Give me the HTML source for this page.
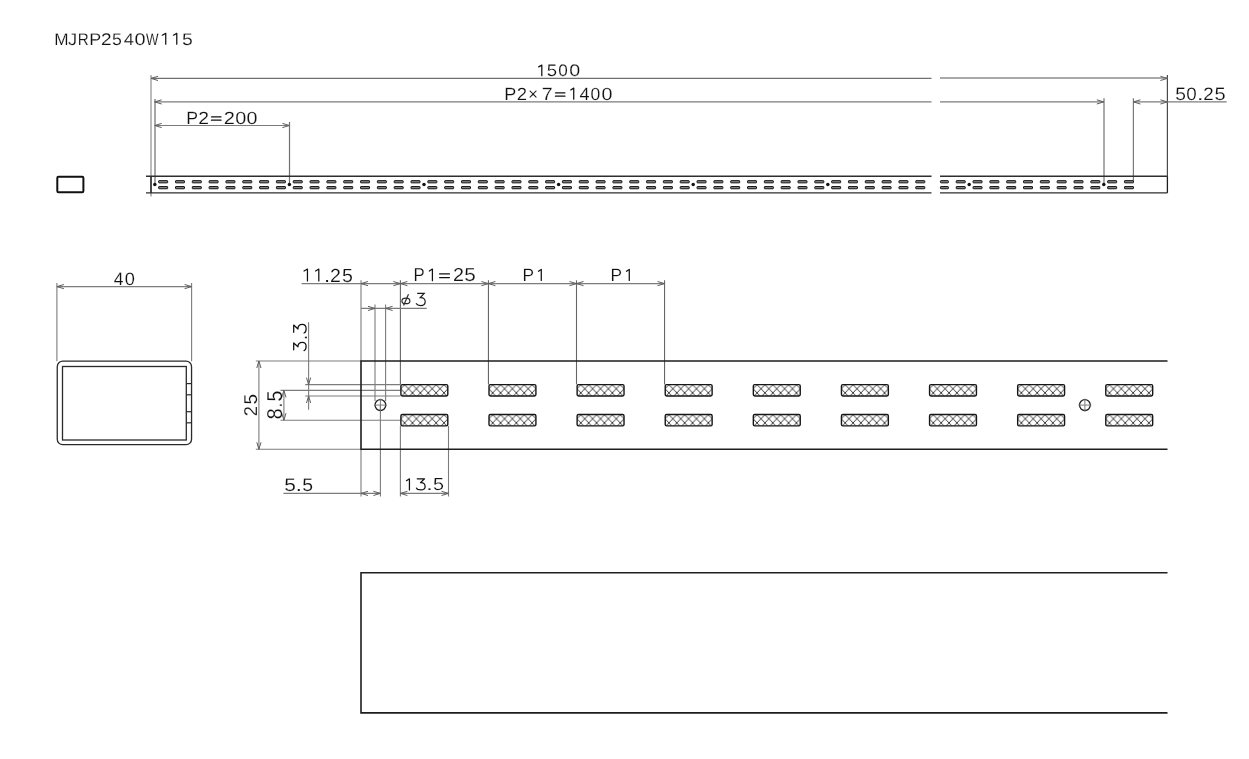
<!DOCTYPE html>
<html><head><meta charset="utf-8"><style>
html,body{margin:0;padding:0;background:#fff;}
svg{display:block;}
text{font-family:"Liberation Sans",sans-serif;text-rendering:geometricPrecision;}
</style></head><body>
<svg width="1249" height="759" viewBox="0 0 1249 759">
<rect width="1249" height="759" fill="#fff"/>
<line x1="151.00" y1="75.00" x2="151.00" y2="176.20" stroke="#a4a4a4" stroke-width="1.5"/>
<line x1="151.00" y1="176.20" x2="151.00" y2="192.90" stroke="#1e1e1e" stroke-width="1.6"/>
<line x1="151.00" y1="192.90" x2="151.00" y2="196.50" stroke="#a4a4a4" stroke-width="1.5"/>
<line x1="1167.40" y1="75.00" x2="1167.40" y2="176.20" stroke="#4a4a4a" stroke-width="1.2"/>
<line x1="1167.40" y1="176.20" x2="1167.40" y2="192.90" stroke="#1e1e1e" stroke-width="1.3"/>
<line x1="155.00" y1="99.00" x2="155.00" y2="184.50" stroke="#8a8a8a" stroke-width="1.5"/>
<line x1="289.50" y1="122.00" x2="289.50" y2="184.50" stroke="#707070" stroke-width="1.2"/>
<line x1="1104.00" y1="98.30" x2="1104.00" y2="184.50" stroke="#7e7e7e" stroke-width="1.3"/>
<line x1="1133.40" y1="98.30" x2="1133.40" y2="181.00" stroke="#7a7a7a" stroke-width="1.2"/>
<line x1="146.00" y1="176.20" x2="931.50" y2="176.20" stroke="#2e2e2e" stroke-width="1.4"/>
<line x1="146.00" y1="192.90" x2="931.50" y2="192.90" stroke="#2e2e2e" stroke-width="1.4"/>
<line x1="940.00" y1="176.20" x2="1167.40" y2="176.20" stroke="#2e2e2e" stroke-width="1.4"/>
<line x1="940.00" y1="192.90" x2="1167.40" y2="192.90" stroke="#2e2e2e" stroke-width="1.4"/>
<line x1="151.00" y1="78.40" x2="931.50" y2="78.40" stroke="#707070" stroke-width="1.2"/>
<line x1="940.00" y1="78.00" x2="1167.40" y2="78.00" stroke="#8c8c8c" stroke-width="1.4"/>
<path d="M158.00,76.30 L151.00,78.40 L158.00,80.50" stroke="#5e5e5e" stroke-width="1.0" fill="none" />
<path d="M1160.40,76.30 L1167.40,78.40 L1160.40,80.50" stroke="#5e5e5e" stroke-width="1.0" fill="none" />
<line x1="154.70" y1="101.90" x2="931.50" y2="101.90" stroke="#7c7c7c" stroke-width="1.1"/>
<line x1="940.00" y1="101.90" x2="1103.80" y2="101.90" stroke="#7c7c7c" stroke-width="1.1"/>
<path d="M161.70,99.80 L154.70,101.90 L161.70,104.00" stroke="#5e5e5e" stroke-width="1.0" fill="none" />
<path d="M1096.80,99.80 L1103.80,101.90 L1096.80,104.00" stroke="#5e5e5e" stroke-width="1.0" fill="none" />
<line x1="1133.40" y1="101.90" x2="1226.70" y2="101.90" stroke="#7c7c7c" stroke-width="1.1"/>
<path d="M1140.40,99.80 L1133.40,101.90 L1140.40,104.00" stroke="#5e5e5e" stroke-width="1.0" fill="none" />
<path d="M1160.40,99.80 L1167.40,101.90 L1160.40,104.00" stroke="#5e5e5e" stroke-width="1.0" fill="none" />
<line x1="154.70" y1="125.50" x2="289.40" y2="125.50" stroke="#7c7c7c" stroke-width="1.1"/>
<path d="M161.70,123.40 L154.70,125.50 L161.70,127.60" stroke="#5e5e5e" stroke-width="1.0" fill="none" />
<path d="M282.40,123.40 L289.40,125.50 L282.40,127.60" stroke="#5e5e5e" stroke-width="1.0" fill="none" />
<g fill="#8a8a8a" stroke="#121212" stroke-width="1.0"><rect x="158.65" y="180.65" width="9.0" height="2.2" rx="0.4"/><rect x="158.65" y="186.55" width="9.0" height="2.2" rx="0.4"/><rect x="175.47" y="180.65" width="9.0" height="2.2" rx="0.4"/><rect x="175.47" y="186.55" width="9.0" height="2.2" rx="0.4"/><rect x="192.30" y="180.65" width="9.0" height="2.2" rx="0.4"/><rect x="192.30" y="186.55" width="9.0" height="2.2" rx="0.4"/><rect x="209.12" y="180.65" width="9.0" height="2.2" rx="0.4"/><rect x="209.12" y="186.55" width="9.0" height="2.2" rx="0.4"/><rect x="225.95" y="180.65" width="9.0" height="2.2" rx="0.4"/><rect x="225.95" y="186.55" width="9.0" height="2.2" rx="0.4"/><rect x="242.78" y="180.65" width="9.0" height="2.2" rx="0.4"/><rect x="242.78" y="186.55" width="9.0" height="2.2" rx="0.4"/><rect x="259.60" y="180.65" width="9.0" height="2.2" rx="0.4"/><rect x="259.60" y="186.55" width="9.0" height="2.2" rx="0.4"/><rect x="276.43" y="180.65" width="9.0" height="2.2" rx="0.4"/><rect x="276.43" y="186.55" width="9.0" height="2.2" rx="0.4"/><rect x="293.25" y="180.65" width="9.0" height="2.2" rx="0.4"/><rect x="293.25" y="186.55" width="9.0" height="2.2" rx="0.4"/><rect x="310.07" y="180.65" width="9.0" height="2.2" rx="0.4"/><rect x="310.07" y="186.55" width="9.0" height="2.2" rx="0.4"/><rect x="326.90" y="180.65" width="9.0" height="2.2" rx="0.4"/><rect x="326.90" y="186.55" width="9.0" height="2.2" rx="0.4"/><rect x="343.73" y="180.65" width="9.0" height="2.2" rx="0.4"/><rect x="343.73" y="186.55" width="9.0" height="2.2" rx="0.4"/><rect x="360.55" y="180.65" width="9.0" height="2.2" rx="0.4"/><rect x="360.55" y="186.55" width="9.0" height="2.2" rx="0.4"/><rect x="377.38" y="180.65" width="9.0" height="2.2" rx="0.4"/><rect x="377.38" y="186.55" width="9.0" height="2.2" rx="0.4"/><rect x="394.20" y="180.65" width="9.0" height="2.2" rx="0.4"/><rect x="394.20" y="186.55" width="9.0" height="2.2" rx="0.4"/><rect x="411.02" y="180.65" width="9.0" height="2.2" rx="0.4"/><rect x="411.02" y="186.55" width="9.0" height="2.2" rx="0.4"/><rect x="427.85" y="180.65" width="9.0" height="2.2" rx="0.4"/><rect x="427.85" y="186.55" width="9.0" height="2.2" rx="0.4"/><rect x="444.67" y="180.65" width="9.0" height="2.2" rx="0.4"/><rect x="444.67" y="186.55" width="9.0" height="2.2" rx="0.4"/><rect x="461.50" y="180.65" width="9.0" height="2.2" rx="0.4"/><rect x="461.50" y="186.55" width="9.0" height="2.2" rx="0.4"/><rect x="478.33" y="180.65" width="9.0" height="2.2" rx="0.4"/><rect x="478.33" y="186.55" width="9.0" height="2.2" rx="0.4"/><rect x="495.15" y="180.65" width="9.0" height="2.2" rx="0.4"/><rect x="495.15" y="186.55" width="9.0" height="2.2" rx="0.4"/><rect x="511.98" y="180.65" width="9.0" height="2.2" rx="0.4"/><rect x="511.98" y="186.55" width="9.0" height="2.2" rx="0.4"/><rect x="528.80" y="180.65" width="9.0" height="2.2" rx="0.4"/><rect x="528.80" y="186.55" width="9.0" height="2.2" rx="0.4"/><rect x="545.62" y="180.65" width="9.0" height="2.2" rx="0.4"/><rect x="545.62" y="186.55" width="9.0" height="2.2" rx="0.4"/><rect x="562.45" y="180.65" width="9.0" height="2.2" rx="0.4"/><rect x="562.45" y="186.55" width="9.0" height="2.2" rx="0.4"/><rect x="579.27" y="180.65" width="9.0" height="2.2" rx="0.4"/><rect x="579.27" y="186.55" width="9.0" height="2.2" rx="0.4"/><rect x="596.10" y="180.65" width="9.0" height="2.2" rx="0.4"/><rect x="596.10" y="186.55" width="9.0" height="2.2" rx="0.4"/><rect x="612.92" y="180.65" width="9.0" height="2.2" rx="0.4"/><rect x="612.92" y="186.55" width="9.0" height="2.2" rx="0.4"/><rect x="629.75" y="180.65" width="9.0" height="2.2" rx="0.4"/><rect x="629.75" y="186.55" width="9.0" height="2.2" rx="0.4"/><rect x="646.57" y="180.65" width="9.0" height="2.2" rx="0.4"/><rect x="646.57" y="186.55" width="9.0" height="2.2" rx="0.4"/><rect x="663.40" y="180.65" width="9.0" height="2.2" rx="0.4"/><rect x="663.40" y="186.55" width="9.0" height="2.2" rx="0.4"/><rect x="680.22" y="180.65" width="9.0" height="2.2" rx="0.4"/><rect x="680.22" y="186.55" width="9.0" height="2.2" rx="0.4"/><rect x="697.05" y="180.65" width="9.0" height="2.2" rx="0.4"/><rect x="697.05" y="186.55" width="9.0" height="2.2" rx="0.4"/><rect x="713.88" y="180.65" width="9.0" height="2.2" rx="0.4"/><rect x="713.88" y="186.55" width="9.0" height="2.2" rx="0.4"/><rect x="730.70" y="180.65" width="9.0" height="2.2" rx="0.4"/><rect x="730.70" y="186.55" width="9.0" height="2.2" rx="0.4"/><rect x="747.52" y="180.65" width="9.0" height="2.2" rx="0.4"/><rect x="747.52" y="186.55" width="9.0" height="2.2" rx="0.4"/><rect x="764.35" y="180.65" width="9.0" height="2.2" rx="0.4"/><rect x="764.35" y="186.55" width="9.0" height="2.2" rx="0.4"/><rect x="781.17" y="180.65" width="9.0" height="2.2" rx="0.4"/><rect x="781.17" y="186.55" width="9.0" height="2.2" rx="0.4"/><rect x="798.00" y="180.65" width="9.0" height="2.2" rx="0.4"/><rect x="798.00" y="186.55" width="9.0" height="2.2" rx="0.4"/><rect x="814.82" y="180.65" width="9.0" height="2.2" rx="0.4"/><rect x="814.82" y="186.55" width="9.0" height="2.2" rx="0.4"/><rect x="831.65" y="180.65" width="9.0" height="2.2" rx="0.4"/><rect x="831.65" y="186.55" width="9.0" height="2.2" rx="0.4"/><rect x="848.47" y="180.65" width="9.0" height="2.2" rx="0.4"/><rect x="848.47" y="186.55" width="9.0" height="2.2" rx="0.4"/><rect x="865.30" y="180.65" width="9.0" height="2.2" rx="0.4"/><rect x="865.30" y="186.55" width="9.0" height="2.2" rx="0.4"/><rect x="882.12" y="180.65" width="9.0" height="2.2" rx="0.4"/><rect x="882.12" y="186.55" width="9.0" height="2.2" rx="0.4"/><rect x="898.95" y="180.65" width="9.0" height="2.2" rx="0.4"/><rect x="898.95" y="186.55" width="9.0" height="2.2" rx="0.4"/><rect x="915.77" y="180.65" width="9.0" height="2.2" rx="0.4"/><rect x="915.77" y="186.55" width="9.0" height="2.2" rx="0.4"/><rect x="940.45" y="180.65" width="7.95" height="2.2" rx="0.6"/><rect x="940.45" y="186.55" width="7.95" height="2.2" rx="0.6"/><rect x="956.22" y="180.65" width="9.0" height="2.2" rx="0.4"/><rect x="956.22" y="186.55" width="9.0" height="2.2" rx="0.4"/><rect x="973.05" y="180.65" width="9.0" height="2.2" rx="0.4"/><rect x="973.05" y="186.55" width="9.0" height="2.2" rx="0.4"/><rect x="989.87" y="180.65" width="9.0" height="2.2" rx="0.4"/><rect x="989.87" y="186.55" width="9.0" height="2.2" rx="0.4"/><rect x="1006.70" y="180.65" width="9.0" height="2.2" rx="0.4"/><rect x="1006.70" y="186.55" width="9.0" height="2.2" rx="0.4"/><rect x="1023.52" y="180.65" width="9.0" height="2.2" rx="0.4"/><rect x="1023.52" y="186.55" width="9.0" height="2.2" rx="0.4"/><rect x="1040.35" y="180.65" width="9.0" height="2.2" rx="0.4"/><rect x="1040.35" y="186.55" width="9.0" height="2.2" rx="0.4"/><rect x="1057.17" y="180.65" width="9.0" height="2.2" rx="0.4"/><rect x="1057.17" y="186.55" width="9.0" height="2.2" rx="0.4"/><rect x="1074.00" y="180.65" width="9.0" height="2.2" rx="0.4"/><rect x="1074.00" y="186.55" width="9.0" height="2.2" rx="0.4"/><rect x="1090.83" y="180.65" width="9.0" height="2.2" rx="0.4"/><rect x="1090.83" y="186.55" width="9.0" height="2.2" rx="0.4"/><rect x="1107.65" y="180.65" width="9.0" height="2.2" rx="0.4"/><rect x="1107.65" y="186.55" width="9.0" height="2.2" rx="0.4"/><rect x="1124.47" y="180.65" width="9.0" height="2.2" rx="0.4"/><rect x="1124.47" y="186.55" width="9.0" height="2.2" rx="0.4"/></g>
<circle cx="154.80" cy="184.5" r="1.75" fill="#111"/>
<circle cx="289.40" cy="184.5" r="1.75" fill="#111"/>
<circle cx="424.00" cy="184.5" r="1.75" fill="#111"/>
<circle cx="558.60" cy="184.5" r="1.75" fill="#111"/>
<circle cx="693.20" cy="184.5" r="1.75" fill="#111"/>
<circle cx="827.80" cy="184.5" r="1.75" fill="#111"/>
<circle cx="969.20" cy="184.5" r="1.75" fill="#111"/>
<circle cx="1103.80" cy="184.5" r="1.75" fill="#111"/>
<rect x="57.3" y="176.7" width="26.1" height="15.6" rx="1.2" fill="none" stroke="#111" stroke-width="2.0"/>
<line x1="56.90" y1="283.00" x2="56.90" y2="361.20" stroke="#7c7c7c" stroke-width="1.1"/>
<line x1="191.60" y1="283.00" x2="191.60" y2="361.20" stroke="#7c7c7c" stroke-width="1.1"/>
<line x1="56.90" y1="286.60" x2="191.60" y2="286.60" stroke="#7c7c7c" stroke-width="1.1"/>
<path d="M63.90,284.50 L56.90,286.60 L63.90,288.70" stroke="#5e5e5e" stroke-width="1.0" fill="none" />
<path d="M184.60,284.50 L191.60,286.60 L184.60,288.70" stroke="#5e5e5e" stroke-width="1.0" fill="none" />
<rect x="57.25" y="361.2" width="134.3" height="83.5" rx="5.5" fill="none" stroke="#2a2a2a" stroke-width="1.3"/>
<rect x="62.5" y="366.5" width="123.8" height="73.5" fill="none" stroke="#2a2a2a" stroke-width="1.3"/>
<line x1="186.30" y1="383.60" x2="191.50" y2="383.60" stroke="#2a2a2a" stroke-width="1.2"/>
<line x1="186.30" y1="394.80" x2="191.50" y2="394.80" stroke="#2a2a2a" stroke-width="1.2"/>
<line x1="186.30" y1="411.70" x2="191.50" y2="411.70" stroke="#2a2a2a" stroke-width="1.2"/>
<line x1="186.30" y1="422.80" x2="191.50" y2="422.80" stroke="#2a2a2a" stroke-width="1.2"/>
<line x1="255.80" y1="361.00" x2="361.00" y2="361.00" stroke="#7c7c7c" stroke-width="1.1"/>
<line x1="255.80" y1="449.30" x2="361.00" y2="449.30" stroke="#7c7c7c" stroke-width="1.1"/>
<line x1="305.20" y1="384.60" x2="400.40" y2="384.60" stroke="#7c7c7c" stroke-width="1.1"/>
<line x1="280.50" y1="390.40" x2="400.40" y2="390.40" stroke="#7c7c7c" stroke-width="1.1"/>
<line x1="305.20" y1="396.00" x2="400.40" y2="396.00" stroke="#7c7c7c" stroke-width="1.1"/>
<line x1="280.50" y1="420.20" x2="400.40" y2="420.20" stroke="#7c7c7c" stroke-width="1.1"/>
<line x1="361.00" y1="280.30" x2="361.00" y2="361.00" stroke="#7c7c7c" stroke-width="1.1"/>
<line x1="361.00" y1="449.30" x2="361.00" y2="496.50" stroke="#7c7c7c" stroke-width="1.1"/>
<line x1="375.00" y1="304.50" x2="375.00" y2="401.00" stroke="#7c7c7c" stroke-width="1.1"/>
<line x1="385.60" y1="304.50" x2="385.60" y2="401.00" stroke="#7c7c7c" stroke-width="1.1"/>
<line x1="400.40" y1="280.30" x2="400.40" y2="384.60" stroke="#666" stroke-width="1.1"/>
<line x1="400.40" y1="426.00" x2="400.40" y2="496.50" stroke="#7c7c7c" stroke-width="1.1"/>
<line x1="448.50" y1="426.00" x2="448.50" y2="496.50" stroke="#7c7c7c" stroke-width="1.1"/>
<line x1="380.40" y1="405.10" x2="380.40" y2="496.50" stroke="#7c7c7c" stroke-width="1.1"/>
<line x1="488.45" y1="280.30" x2="488.45" y2="384.40" stroke="#666" stroke-width="1.1"/>
<line x1="576.50" y1="280.30" x2="576.50" y2="384.40" stroke="#666" stroke-width="1.1"/>
<line x1="664.55" y1="280.30" x2="664.55" y2="384.40" stroke="#666" stroke-width="1.1"/>
<line x1="301.60" y1="283.60" x2="664.55" y2="283.60" stroke="#7c7c7c" stroke-width="1.1"/>
<path d="M368.00,281.50 L361.00,283.60 L368.00,285.70" stroke="#5e5e5e" stroke-width="1.0" fill="none" />
<path d="M393.40,281.50 L400.40,283.60 L393.40,285.70" stroke="#5e5e5e" stroke-width="1.0" fill="none" />
<path d="M407.40,281.50 L400.40,283.60 L407.40,285.70" stroke="#5e5e5e" stroke-width="1.0" fill="none" />
<path d="M481.45,281.50 L488.45,283.60 L481.45,285.70" stroke="#5e5e5e" stroke-width="1.0" fill="none" />
<path d="M495.45,281.50 L488.45,283.60 L495.45,285.70" stroke="#5e5e5e" stroke-width="1.0" fill="none" />
<path d="M569.50,281.50 L576.50,283.60 L569.50,285.70" stroke="#5e5e5e" stroke-width="1.0" fill="none" />
<path d="M583.50,281.50 L576.50,283.60 L583.50,285.70" stroke="#5e5e5e" stroke-width="1.0" fill="none" />
<path d="M657.55,281.50 L664.55,283.60 L657.55,285.70" stroke="#5e5e5e" stroke-width="1.0" fill="none" />
<line x1="361.00" y1="308.40" x2="426.70" y2="308.40" stroke="#7c7c7c" stroke-width="1.1"/>
<path d="M368.00,306.30 L375.00,308.40 L368.00,310.50" stroke="#5e5e5e" stroke-width="1.0" fill="none" />
<path d="M392.60,306.30 L385.60,308.40 L392.60,310.50" stroke="#5e5e5e" stroke-width="1.0" fill="none" />
<line x1="258.90" y1="361.00" x2="258.90" y2="449.30" stroke="#7c7c7c" stroke-width="1.1"/>
<path d="M256.80,368.00 L258.90,361.00 L261.00,368.00" stroke="#5e5e5e" stroke-width="1.0" fill="none" />
<path d="M256.80,442.30 L258.90,449.30 L261.00,442.30" stroke="#5e5e5e" stroke-width="1.0" fill="none" />
<line x1="283.90" y1="390.40" x2="283.90" y2="420.20" stroke="#7c7c7c" stroke-width="1.1"/>
<path d="M281.80,397.40 L283.90,390.40 L286.00,397.40" stroke="#5e5e5e" stroke-width="1.0" fill="none" />
<path d="M281.80,413.20 L283.90,420.20 L286.00,413.20" stroke="#5e5e5e" stroke-width="1.0" fill="none" />
<line x1="308.60" y1="322.20" x2="308.60" y2="409.80" stroke="#7c7c7c" stroke-width="1.1"/>
<path d="M306.50,377.60 L308.60,384.60 L310.70,377.60" stroke="#5e5e5e" stroke-width="1.0" fill="none" />
<path d="M306.50,403.00 L308.60,396.00 L310.70,403.00" stroke="#5e5e5e" stroke-width="1.0" fill="none" />
<line x1="283.40" y1="493.40" x2="380.40" y2="493.40" stroke="#7c7c7c" stroke-width="1.1"/>
<path d="M368.00,491.30 L361.00,493.40 L368.00,495.50" stroke="#5e5e5e" stroke-width="1.0" fill="none" />
<path d="M373.40,491.30 L380.40,493.40 L373.40,495.50" stroke="#5e5e5e" stroke-width="1.0" fill="none" />
<line x1="400.40" y1="493.40" x2="448.50" y2="493.40" stroke="#7c7c7c" stroke-width="1.1"/>
<path d="M407.40,491.30 L400.40,493.40 L407.40,495.50" stroke="#5e5e5e" stroke-width="1.0" fill="none" />
<path d="M441.50,491.30 L448.50,493.40 L441.50,495.50" stroke="#5e5e5e" stroke-width="1.0" fill="none" />
<path d="M1167.5,361.0 L361.0,361.0 L361.0,449.3 L1167.5,449.3" stroke="#1e1e1e" stroke-width="1.6" fill="none" />
<circle cx="380.4" cy="405.1" r="5.4" fill="none" stroke="#1e1e1e" stroke-width="1.3"/>
<line x1="373.90" y1="405.10" x2="386.90" y2="405.10" stroke="#7c7c7c" stroke-width="1.0"/>
<line x1="380.40" y1="398.60" x2="380.40" y2="411.60" stroke="#7c7c7c" stroke-width="1.0"/>
<circle cx="1084.9" cy="405.1" r="5.4" fill="none" stroke="#1e1e1e" stroke-width="1.3"/>
<line x1="1078.40" y1="405.10" x2="1091.40" y2="405.10" stroke="#7c7c7c" stroke-width="1.0"/>
<line x1="1084.90" y1="398.60" x2="1084.90" y2="411.60" stroke="#7c7c7c" stroke-width="1.0"/>
<defs><pattern id="xh0_0" patternUnits="userSpaceOnUse" width="7.88" height="8.2" x="404.60" y="384.70"><path d="M-0.788,-0.820 L8.668,9.020 M8.668,-0.820 L-0.788,9.020" stroke="#2a2a2a" stroke-width="0.9"/></pattern><pattern id="xh0_1" patternUnits="userSpaceOnUse" width="7.88" height="8.2" x="404.60" y="414.70"><path d="M-0.788,-0.820 L8.668,9.020 M8.668,-0.820 L-0.788,9.020" stroke="#2a2a2a" stroke-width="0.9"/></pattern><pattern id="xh1_0" patternUnits="userSpaceOnUse" width="7.88" height="8.2" x="492.71" y="384.70"><path d="M-0.788,-0.820 L8.668,9.020 M8.668,-0.820 L-0.788,9.020" stroke="#2a2a2a" stroke-width="0.9"/></pattern><pattern id="xh1_1" patternUnits="userSpaceOnUse" width="7.88" height="8.2" x="492.71" y="414.70"><path d="M-0.788,-0.820 L8.668,9.020 M8.668,-0.820 L-0.788,9.020" stroke="#2a2a2a" stroke-width="0.9"/></pattern><pattern id="xh2_0" patternUnits="userSpaceOnUse" width="7.88" height="8.2" x="580.82" y="384.70"><path d="M-0.788,-0.820 L8.668,9.020 M8.668,-0.820 L-0.788,9.020" stroke="#2a2a2a" stroke-width="0.9"/></pattern><pattern id="xh2_1" patternUnits="userSpaceOnUse" width="7.88" height="8.2" x="580.82" y="414.70"><path d="M-0.788,-0.820 L8.668,9.020 M8.668,-0.820 L-0.788,9.020" stroke="#2a2a2a" stroke-width="0.9"/></pattern><pattern id="xh3_0" patternUnits="userSpaceOnUse" width="7.88" height="8.2" x="668.93" y="384.70"><path d="M-0.788,-0.820 L8.668,9.020 M8.668,-0.820 L-0.788,9.020" stroke="#2a2a2a" stroke-width="0.9"/></pattern><pattern id="xh3_1" patternUnits="userSpaceOnUse" width="7.88" height="8.2" x="668.93" y="414.70"><path d="M-0.788,-0.820 L8.668,9.020 M8.668,-0.820 L-0.788,9.020" stroke="#2a2a2a" stroke-width="0.9"/></pattern><pattern id="xh4_0" patternUnits="userSpaceOnUse" width="7.88" height="8.2" x="757.04" y="384.70"><path d="M-0.788,-0.820 L8.668,9.020 M8.668,-0.820 L-0.788,9.020" stroke="#2a2a2a" stroke-width="0.9"/></pattern><pattern id="xh4_1" patternUnits="userSpaceOnUse" width="7.88" height="8.2" x="757.04" y="414.70"><path d="M-0.788,-0.820 L8.668,9.020 M8.668,-0.820 L-0.788,9.020" stroke="#2a2a2a" stroke-width="0.9"/></pattern><pattern id="xh5_0" patternUnits="userSpaceOnUse" width="7.88" height="8.2" x="845.15" y="384.70"><path d="M-0.788,-0.820 L8.668,9.020 M8.668,-0.820 L-0.788,9.020" stroke="#2a2a2a" stroke-width="0.9"/></pattern><pattern id="xh5_1" patternUnits="userSpaceOnUse" width="7.88" height="8.2" x="845.15" y="414.70"><path d="M-0.788,-0.820 L8.668,9.020 M8.668,-0.820 L-0.788,9.020" stroke="#2a2a2a" stroke-width="0.9"/></pattern><pattern id="xh6_0" patternUnits="userSpaceOnUse" width="7.88" height="8.2" x="933.26" y="384.70"><path d="M-0.788,-0.820 L8.668,9.020 M8.668,-0.820 L-0.788,9.020" stroke="#2a2a2a" stroke-width="0.9"/></pattern><pattern id="xh6_1" patternUnits="userSpaceOnUse" width="7.88" height="8.2" x="933.26" y="414.70"><path d="M-0.788,-0.820 L8.668,9.020 M8.668,-0.820 L-0.788,9.020" stroke="#2a2a2a" stroke-width="0.9"/></pattern><pattern id="xh7_0" patternUnits="userSpaceOnUse" width="7.88" height="8.2" x="1021.37" y="384.70"><path d="M-0.788,-0.820 L8.668,9.020 M8.668,-0.820 L-0.788,9.020" stroke="#2a2a2a" stroke-width="0.9"/></pattern><pattern id="xh7_1" patternUnits="userSpaceOnUse" width="7.88" height="8.2" x="1021.37" y="414.70"><path d="M-0.788,-0.820 L8.668,9.020 M8.668,-0.820 L-0.788,9.020" stroke="#2a2a2a" stroke-width="0.9"/></pattern><pattern id="xh8_0" patternUnits="userSpaceOnUse" width="7.88" height="8.2" x="1109.48" y="384.70"><path d="M-0.788,-0.820 L8.668,9.020 M8.668,-0.820 L-0.788,9.020" stroke="#2a2a2a" stroke-width="0.9"/></pattern><pattern id="xh8_1" patternUnits="userSpaceOnUse" width="7.88" height="8.2" x="1109.48" y="414.70"><path d="M-0.788,-0.820 L8.668,9.020 M8.668,-0.820 L-0.788,9.020" stroke="#2a2a2a" stroke-width="0.9"/></pattern></defs>
<rect x="400.90" y="384.65" width="46.9" height="11.3" rx="1.4" fill="url(#xh0_0)" stroke="#161616" stroke-width="1.4"/>
<rect x="400.90" y="414.55" width="46.9" height="11.3" rx="1.4" fill="url(#xh0_1)" stroke="#161616" stroke-width="1.4"/>
<rect x="489.01" y="384.65" width="46.9" height="11.3" rx="1.4" fill="url(#xh1_0)" stroke="#161616" stroke-width="1.4"/>
<rect x="489.01" y="414.55" width="46.9" height="11.3" rx="1.4" fill="url(#xh1_1)" stroke="#161616" stroke-width="1.4"/>
<rect x="577.12" y="384.65" width="46.9" height="11.3" rx="1.4" fill="url(#xh2_0)" stroke="#161616" stroke-width="1.4"/>
<rect x="577.12" y="414.55" width="46.9" height="11.3" rx="1.4" fill="url(#xh2_1)" stroke="#161616" stroke-width="1.4"/>
<rect x="665.23" y="384.65" width="46.9" height="11.3" rx="1.4" fill="url(#xh3_0)" stroke="#161616" stroke-width="1.4"/>
<rect x="665.23" y="414.55" width="46.9" height="11.3" rx="1.4" fill="url(#xh3_1)" stroke="#161616" stroke-width="1.4"/>
<rect x="753.34" y="384.65" width="46.9" height="11.3" rx="1.4" fill="url(#xh4_0)" stroke="#161616" stroke-width="1.4"/>
<rect x="753.34" y="414.55" width="46.9" height="11.3" rx="1.4" fill="url(#xh4_1)" stroke="#161616" stroke-width="1.4"/>
<rect x="841.45" y="384.65" width="46.9" height="11.3" rx="1.4" fill="url(#xh5_0)" stroke="#161616" stroke-width="1.4"/>
<rect x="841.45" y="414.55" width="46.9" height="11.3" rx="1.4" fill="url(#xh5_1)" stroke="#161616" stroke-width="1.4"/>
<rect x="929.56" y="384.65" width="46.9" height="11.3" rx="1.4" fill="url(#xh6_0)" stroke="#161616" stroke-width="1.4"/>
<rect x="929.56" y="414.55" width="46.9" height="11.3" rx="1.4" fill="url(#xh6_1)" stroke="#161616" stroke-width="1.4"/>
<rect x="1017.67" y="384.65" width="46.9" height="11.3" rx="1.4" fill="url(#xh7_0)" stroke="#161616" stroke-width="1.4"/>
<rect x="1017.67" y="414.55" width="46.9" height="11.3" rx="1.4" fill="url(#xh7_1)" stroke="#161616" stroke-width="1.4"/>
<rect x="1105.78" y="384.65" width="46.9" height="11.3" rx="1.4" fill="url(#xh8_0)" stroke="#161616" stroke-width="1.4"/>
<rect x="1105.78" y="414.55" width="46.9" height="11.3" rx="1.4" fill="url(#xh8_1)" stroke="#161616" stroke-width="1.4"/>
<path d="M1167.5,572.8 L361,572.8 L361,712.9 L1167.5,712.9" stroke="#1e1e1e" stroke-width="1.6" fill="none" />
<g font-family="Liberation Sans, sans-serif" fill="#111" stroke="#fff" stroke-width="0.15" style="opacity:0.999"><text transform="translate(54.19,44.86) scale(1.019,1)" font-size="16.87">M</text>
<text transform="translate(68.01,44.86) scale(1.084,1)" font-size="16.87">J</text>
<text transform="translate(77.66,44.86) scale(0.900,1)" font-size="16.87">R</text>
<text transform="translate(89.24,44.86) scale(1.059,1)" font-size="16.87">P</text>
<text transform="translate(100.95,44.86) scale(1.131,1)" font-size="16.87">2</text>
<text transform="translate(112.09,44.86) scale(1.051,1)" font-size="16.87">5</text>
<text transform="translate(123.68,44.86) scale(1.082,1)" font-size="16.87">4</text>
<text transform="translate(134.52,44.86) scale(1.178,1)" font-size="16.87">0</text>
<text transform="translate(145.93,44.86) scale(0.786,1)" font-size="16.87">W</text>
<path d="M162.26,35.20 L165.74,33.40 L165.74,44.20" fill="none" stroke="#111" stroke-width="1.25" stroke-linecap="round" stroke-linejoin="round" class="cg"/>
<path d="M173.44,35.20 L176.77,33.40 L176.77,44.20" fill="none" stroke="#111" stroke-width="1.25" stroke-linecap="round" stroke-linejoin="round" class="cg"/>
<text transform="translate(181.92,44.86) scale(1.151,1)" font-size="16.87">5</text>
<path d="M538.70,66.86 L541.81,65.09 L541.81,75.71" fill="none" stroke="#111" stroke-width="1.25" stroke-linecap="round" stroke-linejoin="round" class="cg"/>
<text transform="translate(546.86,76.38) scale(1.109,1)" font-size="16.73">5</text>
<text transform="translate(558.33,76.38) scale(1.025,1)" font-size="16.73">0</text>
<text transform="translate(569.23,76.38) scale(1.175,1)" font-size="16.73">0</text>
<text transform="translate(504.32,99.98) scale(1.022,1)" font-size="17.66">P</text>
<text transform="translate(516.68,99.98) scale(1.043,1)" font-size="17.66">2</text>
<text transform="translate(527.89,99.98) scale(0.980,1)" font-size="17.66">×</text>
<text transform="translate(541.80,99.98) scale(1.108,1)" font-size="17.66">7</text>
<path d="M555.45,92.79 L564.95,92.79 M555.45,96.23 L564.95,96.23" fill="none" stroke="#111" stroke-width="1.25" stroke-linecap="round" stroke-linejoin="round" class="cg"/>
<path d="M570.69,89.96 L573.73,88.11 L573.73,99.19" fill="none" stroke="#111" stroke-width="1.25" stroke-linecap="round" stroke-linejoin="round" class="cg"/>
<text transform="translate(579.58,99.98) scale(1.022,1)" font-size="17.66">4</text>
<text transform="translate(590.61,99.98) scale(0.995,1)" font-size="17.66">0</text>
<text transform="translate(601.53,99.98) scale(1.114,1)" font-size="17.66">0</text>
<text transform="translate(186.25,123.98) scale(1.000,1)" font-size="17.66">P</text>
<text transform="translate(198.24,123.98) scale(1.093,1)" font-size="17.66">2</text>
<path d="M211.45,116.79 L221.05,116.79 M211.45,120.23 L221.05,120.23" fill="none" stroke="#111" stroke-width="1.25" stroke-linecap="round" stroke-linejoin="round" class="cg"/>
<text transform="translate(223.80,123.98) scale(1.130,1)" font-size="17.66">2</text>
<text transform="translate(235.22,123.98) scale(1.125,1)" font-size="17.66">0</text>
<text transform="translate(246.53,123.98) scale(1.114,1)" font-size="17.66">0</text>
<text transform="translate(1175.13,99.70) scale(1.067,1)" font-size="18.00">5</text>
<text transform="translate(1186.17,99.70) scale(1.046,1)" font-size="18.00">0</text>
<text transform="translate(1196.63,99.70) scale(1.389,1)" font-size="18.00">.</text>
<text transform="translate(1203.36,99.70) scale(1.048,1)" font-size="18.00">2</text>
<text transform="translate(1214.40,99.70) scale(1.113,1)" font-size="18.00">5</text>
<text transform="translate(113.80,284.72) scale(0.970,1)" font-size="18.00">4</text>
<text transform="translate(124.79,284.72) scale(1.011,1)" font-size="18.00">0</text>
<path d="M304.05,271.04 L307.46,269.06 L307.46,280.94" fill="none" stroke="#111" stroke-width="1.25" stroke-linecap="round" stroke-linejoin="round" class="cg"/>
<path d="M315.62,271.04 L318.80,269.06 L318.80,280.94" fill="none" stroke="#111" stroke-width="1.25" stroke-linecap="round" stroke-linejoin="round" class="cg"/>
<text transform="translate(323.91,281.70) scale(1.151,1)" font-size="19.00">.</text>
<text transform="translate(330.12,281.70) scale(1.027,1)" font-size="19.00">2</text>
<text transform="translate(341.92,281.70) scale(1.032,1)" font-size="19.00">5</text>
<text transform="translate(413.43,281.42) scale(0.899,1)" font-size="18.61">P</text>
<path d="M429.30,270.98 L432.41,269.04 L432.41,280.66" fill="none" stroke="#111" stroke-width="1.25" stroke-linecap="round" stroke-linejoin="round" class="cg"/>
<path d="M439.57,273.95 L449.43,273.95 M439.57,277.56 L449.43,277.56" fill="none" stroke="#111" stroke-width="1.25" stroke-linecap="round" stroke-linejoin="round" class="cg"/>
<text transform="translate(453.01,281.42) scale(1.061,1)" font-size="18.61">2</text>
<text transform="translate(464.37,281.42) scale(1.111,1)" font-size="18.61">5</text>
<text transform="translate(522.48,281.14) scale(0.963,1)" font-size="17.96">P</text>
<path d="M538.46,271.26 L541.27,269.42 L541.27,280.49" fill="none" stroke="#111" stroke-width="1.25" stroke-linecap="round" stroke-linejoin="round" class="cg"/>
<text transform="translate(610.48,281.14) scale(0.963,1)" font-size="17.96">P</text>
<path d="M626.46,271.26 L629.27,269.42 L629.27,280.49" fill="none" stroke="#111" stroke-width="1.25" stroke-linecap="round" stroke-linejoin="round" class="cg"/>
<text transform="translate(256.88,413.72) rotate(-90) translate(-2.50,0) scale(0.989,1)" font-size="18.62">2</text>
<text transform="translate(256.88,413.72) rotate(-90) translate(9.26,0) scale(1.020,1)" font-size="18.62">5</text>
<text transform="translate(282.42,416.38) rotate(-90) translate(-3.19,0) scale(0.941,1)" font-size="21.47">8</text>
<text transform="translate(282.42,416.38) rotate(-90) translate(9.35,0) scale(0.631,1)" font-size="21.47">.</text>
<text transform="translate(282.42,416.38) rotate(-90) translate(14.80,0) scale(0.904,1)" font-size="21.47">5</text>
<path d="M293.69,349.83 L293.69,342.99 L297.97,346.77 C297.69,343.62 299.76,342.45 302.25,342.45 C305.01,342.45 306.11,343.98 306.11,346.50 C306.11,348.48 305.42,350.10 304.04,350.55" fill="none" stroke="#111" stroke-width="1.25" stroke-linecap="round" stroke-linejoin="round" class="cg"/>
<text transform="translate(306.88,350.48) rotate(-90) translate(10.37,0) scale(0.884,1)" font-size="20.04">.</text>
<path d="M293.69,332.26 L293.69,325.05 L297.97,329.04 C297.69,325.71 299.76,324.48 302.25,324.48 C305.01,324.48 306.11,326.09 306.11,328.75 C306.11,330.84 305.42,332.55 304.04,333.02" fill="none" stroke="#111" stroke-width="1.25" stroke-linecap="round" stroke-linejoin="round" class="cg"/>
<text transform="translate(284.16,490.58) scale(1.141,1)" font-size="18.31">5</text>
<text transform="translate(295.42,490.58) scale(1.309,1)" font-size="18.31">.</text>
<text transform="translate(302.32,490.58) scale(1.060,1)" font-size="18.31">5</text>
<path d="M406.48,480.68 L409.44,478.82 L409.44,489.98" fill="none" stroke="#111" stroke-width="1.25" stroke-linecap="round" stroke-linejoin="round" class="cg"/>
<path d="M417.25,478.82 L424.54,478.82 L420.51,482.66 C423.87,482.42 425.12,484.28 425.12,486.51 C425.12,488.99 423.49,489.98 420.80,489.98 C418.69,489.98 416.96,489.36 416.48,488.12" fill="none" stroke="#111" stroke-width="1.25" stroke-linecap="round" stroke-linejoin="round" class="cg"/>
<text transform="translate(425.92,490.28) scale(1.434,1)" font-size="17.43">.</text>
<text transform="translate(433.01,490.28) scale(1.138,1)" font-size="17.43">5</text></g>
<g fill="none" stroke="#2a2a2a" stroke-width="1.2"><ellipse cx="405.9" cy="300.9" rx="4.0" ry="2.8"/><line x1="403.6" y1="305.5" x2="408.5" y2="294.3"/></g><path d="M417.2,293.4 H424.2 L420.3,297.6 C423.5,297.4 425.2,299.3 425.2,301.5 C425.2,304 423.2,305.6 420.6,305.6 C418.6,305.6 416.9,304.8 416.0,303.4" fill="none" stroke="#1a1a1a" stroke-width="1.2"/>
</svg></body></html>
